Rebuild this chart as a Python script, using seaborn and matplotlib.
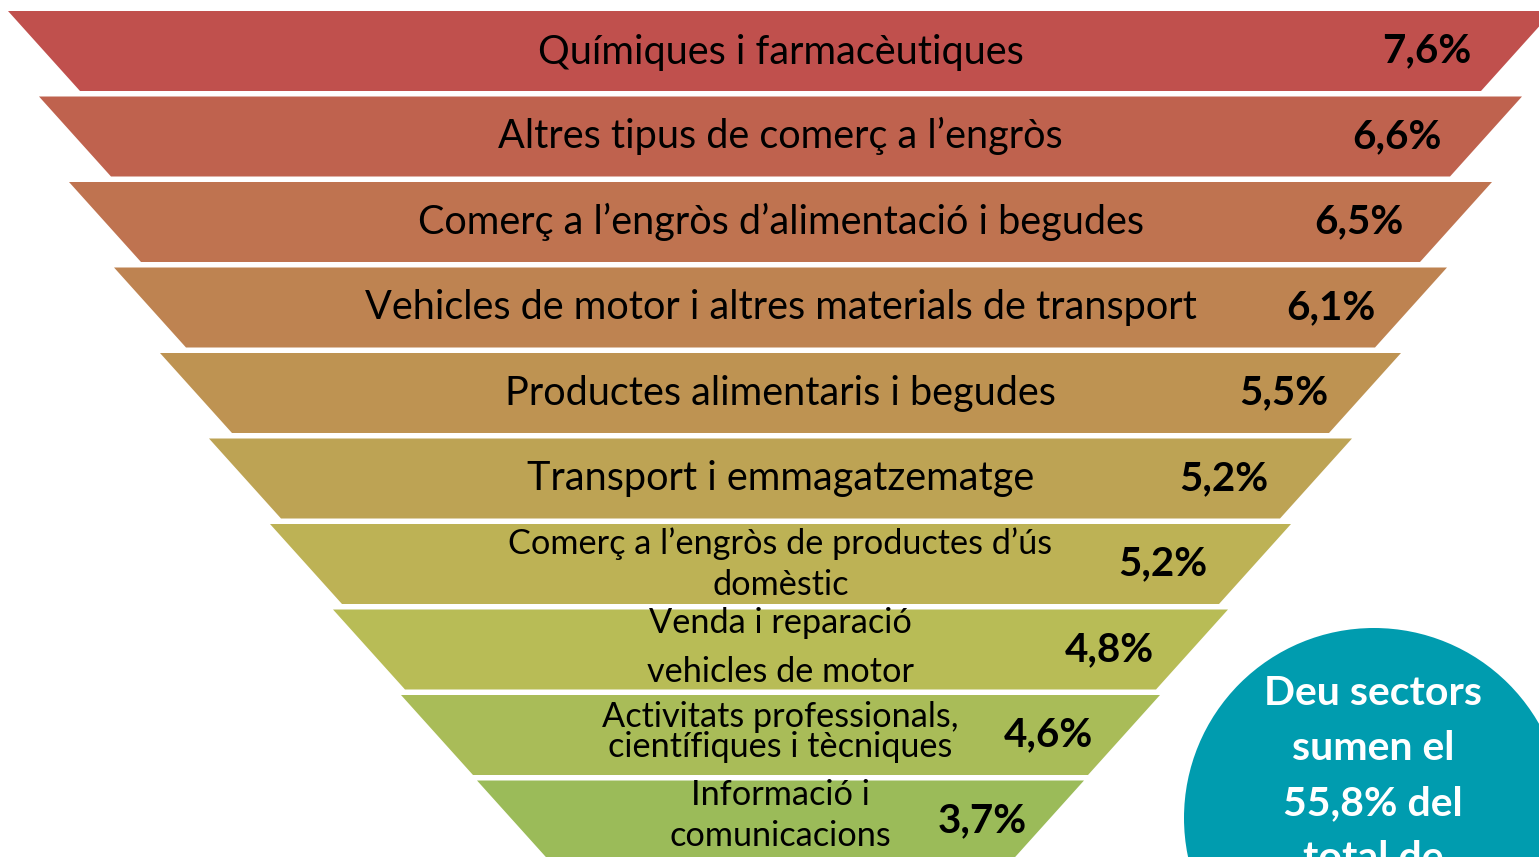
import colorsys
import matplotlib.pyplot as plt
from matplotlib.colors import to_rgb
from matplotlib.patches import Polygon, Circle
import seaborn as sns

# Dades: pes de cada sector (%)
sectors = [
    "Químiques i farmacèutiques",
    "Altres tipus de comerç a l’engròs",
    "Comerç a l’engròs d’alimentació i begudes",
    "Vehicles de motor i altres materials de transport",
    "Productes alimentaris i begudes",
    "Transport i emmagatzematge",
    "Comerç a l’engròs de productes d’ús\ndomèstic",
    "Venda i reparació\nvehicles de motor",
    "Activitats professionals,\ncientífiques i tècniques",
    "Informació i\ncomunicacions",
]
shares = [7.6, 6.6, 6.5, 6.1, 5.5, 5.2, 5.2, 4.8, 4.6, 3.7]
summary_lines = ["Deu sectors", "sumen el", "55,8% del", "total de"]

# Disseny de l'embut (píxels)
W, H = 1539, 857
cx = 780.5
half_top = [772.5, 741.5, 711.5, 666.5, 620.5, 571.5, 510.5, 447.5, 379.5, 303.5]
y0, step, band_h, slant = 11, 85.5, 80, 72
label_size = [28.5] * 6 + [24.7] * 4
label_spacing = [1.2, 1.2, 1.2, 1.2, 1.2, 1.2, 1.33, 1.62, 0.95, 1.375]
label_dy = [1, -1, 0, 0, 0, 0, 0, -2, -3, -5]
pct_offset = [-10, -8, -16, 1, -1, -12, -12, -2, 5, 15]

# Colors: gradació en HLS de vermell a verd
h0, l0, s0 = colorsys.rgb_to_hls(*to_rgb("#C0504D"))
h1, l1, s1 = colorsys.rgb_to_hls(*to_rgb("#9BBB59"))
n = len(sectors)
colors = []
for i in range(n):
    t = i / (n - 1)
    colors.append(colorsys.hls_to_rgb(h0 + t * (h1 - h0), l0 + t * (l1 - l0), s0 + t * (s1 - s0)))

sns.set_theme(style="white")
plt.rcParams['font.family'] = ['Lato', 'DejaVu Sans']

fig = plt.figure(figsize=(W / 100, H / 100), dpi=100)
ax = fig.add_axes([0, 0, 1, 1])
ax.set_xlim(0, W)
ax.set_ylim(H, 0)
ax.axis('off')

for i, (name, val) in enumerate(zip(sectors, shares)):
    top = y0 + i * step
    bot = top + band_h
    hw = half_top[i]
    hb = hw - slant
    ax.add_patch(Polygon([(cx - hw, top), (cx + hw, top), (cx + hb, bot), (cx - hb, bot)],
                         closed=True, facecolor=colors[i], edgecolor='none'))
    mid = (top + bot) / 2
    ax.text(cx, mid + label_dy[i], name, ha='center', va='center', multialignment='center',
            fontsize=label_size[i], linespacing=label_spacing[i], color='black')
    pct = f"{val:.1f}%".replace('.', ',')
    ax.text(cx + hb + pct_offset[i], mid, pct, ha='right', va='center',
            fontsize=29, fontweight='bold', color='black')

# Cercle resum (el text continua per sota de la vora, com a l'original)
ax.add_patch(Circle((1374, 818), 190, facecolor="#009CAF", edgecolor='none'))
ax.text(1373, 776, "\n".join(summary_lines), ha='center', va='center',
        multialignment='center', fontsize=29.5, fontweight='bold', color='white',
        linespacing=1.6)

fig.savefig("out.png", dpi=100)
